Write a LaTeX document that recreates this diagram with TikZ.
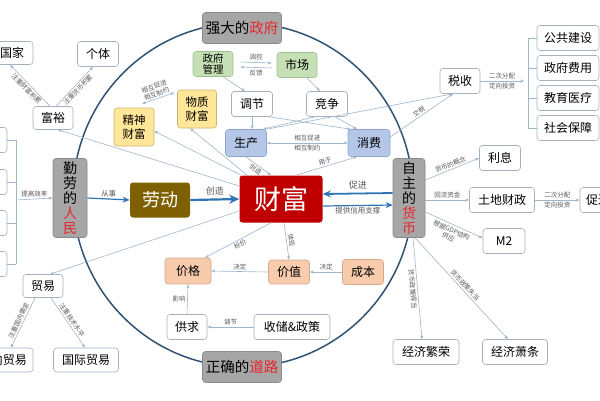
\documentclass[tikz,border=0pt]{standalone}
\usepackage{fontspec}
\setmainfont{Noto Sans CJK SC}
\usetikzlibrary{arrows.meta}

\definecolor{ringblue}{HTML}{2F5373}
\definecolor{linkblue}{HTML}{9FB6CD}
\definecolor{flowblue}{HTML}{2E75B6}
\definecolor{keyfill}{HTML}{A6A6A6}
\definecolor{keyline}{HTML}{8A8A8A}
\definecolor{keyred}{HTML}{E8262B}
\definecolor{greenfill}{HTML}{C5E0B4}
\definecolor{greenline}{HTML}{A3BF94}
\definecolor{yellowfill}{HTML}{FFE699}
\definecolor{yellowline}{HTML}{CDB46E}
\definecolor{bluefill}{HTML}{B4C7E7}
\definecolor{blueline}{HTML}{8FA6CC}
\definecolor{orangefill}{HTML}{F8CBAD}
\definecolor{orangeline}{HTML}{D2A98D}
\definecolor{whiteline}{HTML}{A7B1BC}
\definecolor{wealthred}{HTML}{C00000}
\definecolor{laborbrown}{HTML}{7F6000}
\definecolor{labelgray}{HTML}{595959}

\newcommand{\rd}[1]{\textcolor{keyred}{#1}}

\begin{document}
\begin{tikzpicture}
  [x=1pt,y=-1pt,>={Stealth[length=4pt,width=3pt]},
   box/.style={rounded corners=3pt,line width=0.6pt,inner sep=1pt,align=center,
     minimum height=25pt,font=\fontsize{12}{13}\selectfont},
   wbox/.style={box,draw=whiteline,fill=white},
   gbox/.style={box,draw=greenline,fill=greenfill},
   ybox/.style={box,draw=yellowline,fill=yellowfill},
   bbox/.style={box,draw=blueline,fill=bluefill},
   obox/.style={box,draw=orangeline,fill=orangefill},
   keybox/.style={box,draw=keyline,fill=keyfill,font=\fontsize{14.5}{15.5}\selectfont},
   link/.style={draw=linkblue,line width=0.6pt,->},
   tick/.style={draw=linkblue,line width=0.6pt},
   flow/.style={draw=flowblue,line width=1.2pt,-{Stealth[length=7pt,width=6pt]}},
   lbl/.style={font=\fontsize{6.5}{7.5}\selectfont,text=labelgray,inner sep=1.5pt}]

  \useasboundingbox (0,0) rectangle (600,400);
  \fill[white] (0,0) rectangle (600,400);
  \clip (0,0) rectangle (600,400);

  \draw[ringblue,line width=1.5pt] (243,195) ellipse [x radius=170pt,y radius=172pt];

  % the four corners
  \node[keybox,minimum width=79pt,minimum height=31pt] (gov) at (242,28) {强大的\rd{政府}};
  \node[keybox,minimum width=79pt,minimum height=31pt] (road) at (242,367) {正确的\rd{道路}};
  \node[keybox,minimum width=34pt,minimum height=79pt,font=\fontsize{14}{15}\selectfont]
    (people) at (70,198) {勤\\劳\\的\\\rd{人}\\\rd{民}};
  \node[keybox,minimum width=32pt,minimum height=79pt,font=\fontsize{14}{15}\selectfont]
    (money) at (409,198) {自\\主\\的\\\rd{货}\\\rd{币}};

  % inside the ring
  \node[box,fill=wealthred,text=white,minimum width=83pt,minimum height=47pt,
    font=\fontsize{27}{28}\selectfont] (wealth) at (281,199) {财富};
  \node[box,fill=laborbrown,text=white,minimum width=60pt,minimum height=35pt,
    font=\fontsize{18}{19}\selectfont] (labor) at (160,200) {劳动};
  \node[gbox,minimum width=40pt,font=\fontsize{10.5}{11.5}\selectfont] (mgmt) at (213,64) {政府\\管理};
  \node[gbox,minimum width=40pt] (mkt) at (297,65) {市场};
  \node[ybox,minimum width=39pt,minimum height=38pt,font=\fontsize{11.5}{14}\selectfont] (matl) at (197,109) {物质\\财富};
  \node[ybox,minimum width=40pt,minimum height=38pt,font=\fontsize{11.5}{14}\selectfont] (spir) at (134,127) {精神\\财富};
  \node[wbox,minimum width=41pt] (adj) at (252,104) {调节};
  \node[wbox,minimum width=41pt] (comp) at (327,104) {竞争};
  \node[bbox,minimum width=41pt,minimum height=27pt] (prod) at (246,143) {生产};
  \node[bbox,minimum width=42pt,minimum height=27pt] (cons) at (369,143) {消费};
  \node[obox,minimum width=46pt,minimum height=26pt] (price) at (188,271) {价格};
  \node[obox,minimum width=41pt,minimum height=24pt] (value) at (289,272) {价值};
  \node[obox,minimum width=41pt] (cost) at (363,272) {成本};
  \node[wbox,minimum width=40pt] (supply) at (187,327) {供求};
  \node[wbox,minimum width=76pt] (policy) at (292,327) {收储\&政策};

  % left side
  \node[wbox,minimum width=42pt,minimum height=23pt] (nation) at (12,53) {国家};
  \node[wbox,minimum width=41pt] (indiv) at (98,54) {个体};
  \node[wbox,minimum width=40pt,minimum height=23pt] (rich) at (53,118) {富裕};
  \node[wbox,minimum width=40pt,minimum height=23pt] (trade) at (43,286) {贸易};
  \node[wbox,minimum width=60pt,minimum height=24pt] (dom) at (3,360) {国内贸易};
  \node[wbox,minimum width=65pt,minimum height=24pt] (intl) at (86,360) {国际贸易};
  \node[wbox,minimum width=54pt] (l1) at (-20,140) {};
  \node[wbox,minimum width=54pt] (l2) at (-20,182) {};
  \node[wbox,minimum width=54pt] (l3) at (-20,223) {};
  \node[wbox,minimum width=54pt] (l4) at (-20,264) {};
  \coordinate (bm) at (16,200);

  % right side
  \node[wbox,minimum width=40pt] (tax) at (460,81) {税收};
  \node[wbox,minimum width=62pt] (pub) at (568,38) {公共建设};
  \node[wbox,minimum width=62pt] (gfee) at (568,68) {政府费用};
  \node[wbox,minimum width=62pt] (edu) at (568,98) {教育医疗};
  \node[wbox,minimum width=62pt] (soc) at (568,128) {社会保障};
  \coordinate (tb) at (528,81);
  \node[wbox,minimum width=41pt] (intr) at (500,158) {利息};
  \node[wbox,minimum width=65pt] (land) at (502,200) {土地财政};
  \node[wbox,minimum width=60pt] (promo) at (610,200) {促进消费};
  \node[wbox,minimum width=42pt] (m2) at (504,241) {M2};
  \node[wbox,minimum width=66pt] (boom) at (426,352) {经济繁荣};
  \node[wbox,minimum width=65pt] (slump) at (515,352) {经济萧条};

  % main flow
  \draw[flow] (people.east) -- (labor.west) node[lbl,midway,above,font=\fontsize{7.5}{8}\selectfont] {从事};
  \draw[flow,line width=2.2pt,-{Stealth[length=10pt,width=9pt]}] (labor.east) -- (wealth.west)
    node[lbl,midway,above=2pt,font=\fontsize{9}{10}\selectfont] {创造};
  \draw[flow,line width=1.8pt,-{Stealth[length=8pt,width=7pt]}] ([yshift=5pt]money.west) -- ([yshift=5pt]wealth.east)
    node[lbl,midway,above=2pt,font=\fontsize{9}{10}\selectfont] {促进};
  \draw[flow] ([yshift=-7pt]wealth.east) -- ([yshift=-7pt]money.west)
    node[lbl,midway,below,font=\fontsize{7.5}{8}\selectfont] {提供信用支撑};

  % government and market
  \draw[link] ([xshift=7pt,yshift=2pt]mgmt.east) -- ([xshift=-5pt,yshift=2pt]mkt.west) node[lbl,midway,above=1pt] {调控};
  \draw[link] ([xshift=-5pt,yshift=-3pt]mkt.west) -- ([xshift=7pt,yshift=-3pt]mgmt.east) node[lbl,midway,below=1pt] {反馈};
  \draw[link] ([xshift=10pt]mgmt.south) -- ([xshift=-7pt]adj.north);
  \draw[link] ([xshift=10pt]mkt.south) -- ([xshift=-7pt]comp.north);
  \draw[link] (adj.south) -- ([xshift=6pt]prod.north);
  \draw[link] ([xshift=-4pt]adj.south east) -- ([xshift=3pt]cons.north west);
  \draw[link] ([xshift=-12pt]comp.south) -- ([xshift=-4pt]prod.north east);
  \draw[link] ([xshift=8pt]comp.south) -- ([xshift=-12pt]cons.north);
  \draw[link,<->] (prod.east) -- (cons.west) node[lbl,midway,above] {相互促进} node[lbl,midway,below] {相互制约};
  \draw[link,<->] ([xshift=8pt,yshift=4pt]spir.north) -- ([xshift=-3pt,yshift=-3pt]matl.north west)
    node[lbl,midway,sloped,above,align=center] {相互促进\\相互制约};

  % wealth outwards
  \draw[link] ([xshift=2pt]wealth.north west) -- ([yshift=-4pt]spir.east);
  \draw[link] ([xshift=8pt]wealth.north west) -- ([xshift=-7pt]matl.south);
  \draw[link] ([yshift=13pt]wealth.west) -- ([xshift=5pt]rich.south);
  \draw[link] ([yshift=-12pt]wealth.west) -- ([xshift=7pt]trade.north);
  \draw[link] (prod.south) -- ([xshift=-10pt]wealth.north) node[lbl,midway,sloped,below] {创造};
  \draw[link] ([xshift=15pt]wealth.north) -- ([xshift=-12pt]cons.south) node[lbl,midway,sloped,above] {用于};
  \draw[link] ([xshift=-10pt]wealth.south) -- ([xshift=17pt]price.north) node[lbl,midway,sloped,below] {标价};
  \draw[link] ([xshift=3pt]wealth.south) -- (value.north) node[lbl,midway,sloped,above] {体现};

  % price
  \draw[link] (value.west) -- (price.east) node[lbl,midway,above] {决定};
  \draw[link] (cost.west) -- (value.east) node[lbl,midway,above] {决定};
  \draw[link] (supply.north) -- (price.south) node[lbl,midway,left] {影响};
  \draw[link] (policy.west) -- (supply.east) node[lbl,midway,above] {调节};

  % people side
  \draw[link] ([xshift=-3pt]rich.north) -- ([xshift=-2pt]nation.south) node[lbl,midway,sloped,below] {注重财富积累};
  \draw[link] ([xshift=3pt]rich.north) -- ([xshift=-5pt]indiv.south) node[lbl,midway,sloped,below] {注重货币积累};
  \draw[link] ([xshift=-8pt]trade.south) -- ([xshift=8pt]dom.north) node[lbl,midway,sloped,above] {注重国内需求};
  \draw[link] ([xshift=8pt]trade.south) -- ([xshift=-1pt]intl.north) node[lbl,midway,sloped,above] {注重技术水平};
  \foreach \b in {l1,l2,l3,l4}
    \draw[tick] (\b.east) -- (\b.east -| bm);
  \draw[tick] (l1.east -| bm) -- (l4.east -| bm);
  \draw[link] (bm) -- (people.west) node[lbl,midway,above] {提高效率};

  % tax
  \draw[link] (prod.north east) -- ([xshift=-7pt]tax.south);
  \draw[link] ([yshift=6pt]cons.east) -- ([xshift=-7pt]tax.south) node[lbl,midway,sloped,above] {交税};
  \foreach \b in {pub,gfee,edu,soc}
    \draw[tick] (\b.west) -- (\b.west -| tb);
  \draw[tick] (pub.west -| tb) -- (soc.west -| tb);
  \draw[link] (tax.east) -- ([xshift=-4pt]tb) node[lbl,midway,above] {二次分配} node[lbl,midway,below] {定向投资};

  % money side
  \draw[link] ([yshift=18pt]money.east) -- (intr.west) node[lbl,midway,sloped,above] {货币的概念};
  \draw[link] ([yshift=-2pt]money.east) -- (land.west) node[lbl,midway,above] {回流资金};
  \draw[link] ([yshift=-14pt]money.east) -- ([yshift=3pt]m2.west)
    node[lbl,midway,sloped,below=1pt,align=center] {根据GDP结构\\供应};
  \draw[link] (land.east) -- (promo.west) node[lbl,midway,above] {二次分配} node[lbl,midway,below] {定向投资};
  \draw[link] ([xshift=4pt]money.south) -- ([xshift=-4pt]boom.north) node[lbl,midway,sloped,below] {货币政策得当};
  \draw[link] ([xshift=6pt]money.south) -- ([xshift=-7pt]slump.north) node[lbl,midway,sloped,above] {货币政策失当};

\end{tikzpicture}
\end{document}
